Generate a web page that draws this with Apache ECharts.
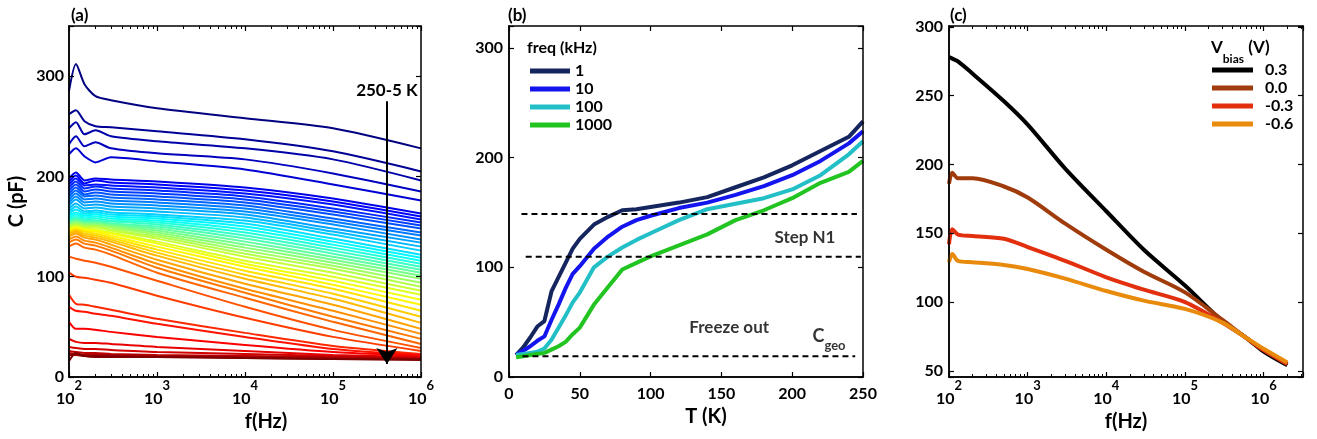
<!DOCTYPE html>
<html>
<head>
<meta charset="utf-8">
<title>C-f / C-T</title>
<script src="https://cdn.jsdelivr.net/npm/echarts@6/dist/echarts.min.js"></script>
<style>
html,body{margin:0;padding:0;background:#fff;}
.chart{position:absolute;left:0;top:0;width:1317px;height:439px;}
</style>
</head>
<body>
<div id="main" class="chart"></div>
<div id="frame" class="chart"></div>
<script>
// (a) C vs f, one curve per temperature, 250 K (first row) down to 5 K (last row)
var freqA = [100, 120, 150, 200, 300, 1e3, 1e4, 1e5, 1e6];
var capA = [
    [285, 312, 292, 280, 276, 268, 258, 248, 228],
    [262, 266, 255, 250, 249, 245, 237, 225, 205],
    [248, 254, 242, 246, 240, 235, 228, 217, 196],
    [232, 240, 230, 234, 228, 223, 217, 203, 185],
    [222, 228, 220, 214, 219, 215, 207, 192, 176],
    [198, 204, 196, 198, 197, 195, 189, 178, 163],
    [195, 201, 193, 196, 194, 192, 186, 175, 160],
    [192, 198, 191, 192, 191, 189, 183, 172, 157],
    [189, 195, 188, 190, 188, 186, 180, 168, 154],
    [186, 192, 185, 187, 185, 183, 177, 165, 151],
    [183, 189, 182, 184, 182, 180, 174, 162, 148],
    [180, 186, 180, 181, 179, 177, 171, 158, 144],
    [177, 183, 177, 178, 176, 174, 168, 155, 141],
    [174, 180, 174, 175, 173, 171, 165, 152, 137],
    [171, 177, 171, 172, 170, 168, 162, 148, 134],
    [168, 173, 168, 169, 167, 165, 159, 145, 130],
    [165, 170, 165, 166, 164, 162, 156, 142, 126],
    [163, 167, 163, 164, 162, 160, 153, 138, 122],
    [161, 164, 161, 162, 160, 158, 150, 135, 119],
    [159, 162, 159, 160, 158, 156, 147, 132, 116],
    [157, 160, 157, 158, 156, 154, 144, 129, 113],
    [156, 158, 156, 156, 155, 152, 141, 126, 110],
    [155, 157, 155, 155, 153, 150, 138, 123, 107],
    [154, 156, 154, 154, 152, 148, 135, 120, 104],
    [153, 155, 153, 153, 151, 146, 132, 117, 101],
    [152, 154, 152, 152, 150, 144, 129, 114, 98],
    [151, 153, 151, 151, 149, 142, 126, 111, 94],
    [150, 152, 150, 150, 147, 140, 123, 108, 90],
    [149, 151, 149, 149, 146, 138, 120, 104, 86],
    [148, 150, 148, 147, 144, 135, 116, 100, 82],
    [147, 149, 147, 146, 143, 133, 113, 96, 77],
    [146, 148, 146, 145, 141, 130, 110, 92, 72],
    [145, 147, 145, 143, 139, 127, 106, 88, 66],
    [144, 146, 143, 141, 137, 124, 102, 83, 60],
    [142, 145, 141, 139, 135, 121, 98, 78, 54],
    [140, 143, 139, 137, 132, 117, 93, 72, 48],
    [137, 140, 136, 134, 129, 113, 88, 66, 43],
    [134, 137, 133, 131, 126, 109, 84, 60, 38],
    [130, 133, 129, 127, 122, 104, 79, 55, 33],
    [120, 118, 116, 114, 110, 96, 70, 47, 29],
    [104, 100, 99, 97, 94, 81, 59, 40, 26],
    [82, 73, 72, 70, 67, 58, 44, 31, 23],
    [70, 66, 65, 63, 61, 53, 40, 28, 22],
    [55, 48, 48, 47, 45, 40, 32, 25, 21],
    [38, 35, 34, 34, 33, 30, 26, 22, 20],
    [30, 29, 28, 28, 27, 25, 23, 21, 19],
    [26, 25, 24, 24, 23, 22, 21, 20, 19],
    [24, 23, 22, 22, 22, 21, 20, 19, 18],
    [22, 22, 21, 21, 21, 20, 19, 18, 18],
    [16, 24, 21, 20, 20, 20, 19, 18, 17]
];
var arrowText = '250-5 K';

// (b) C vs T at four frequencies
var tempB = [5, 10, 15, 20, 25, 30, 35, 40, 45, 50, 60, 70, 80, 90, 100, 120, 140, 160, 180, 200, 220, 240, 250];
var freqNamesB = ['1', '10', '100', '1000'];
var capB1 = [20, 27, 36, 46, 51, 78, 91, 104, 117, 126, 139, 146, 152, 153, 155, 159, 164, 173, 182, 193, 206, 219, 233];
var capB10 = [20, 24, 28, 33, 37, 52, 66, 81, 94, 101, 117, 128, 137, 143, 147, 154, 159, 166, 174, 184, 197, 213, 224];
var capB100 = [20, 21, 22, 23, 26, 34, 45, 56, 68, 77, 100, 110, 118, 125, 131, 143, 153, 158, 163, 171, 184, 203, 215];
var capB1000 = [18, 19, 20, 21, 22, 25, 28, 32, 39, 45, 66, 82, 98, 104, 110, 120, 130, 143, 152, 163, 177, 187, 197];
var levelB = [148.5, 109.7, 19];
var levelFromB = [8.8, 11.8, 9.5];
var levelToB = [245.7, 248.5, 244.5];
var noteTextB = ['Step N1', 'Freeze out', '{c|C}{g|geo}'];

// (c) C vs f at four bias voltages
var freqC = [100, 110, 130, 200, 500, 1e3, 3e3, 1e4, 3e4, 1e5, 3e5, 6e5, 1e6, 2e6];
var biasNamesC = ['0.3', '0.0', '-0.3', '-0.6'];
var capC03 = [278, 277, 275, 266, 246, 229, 197, 166, 138, 112, 86, 74, 64, 54];
var capC00 = [186, 194, 190, 190, 184, 176, 157, 138, 122, 107, 87, 74, 65, 55];
var capCm03 = [142, 153, 149, 148, 146, 140, 130, 118, 109, 100, 85, 74, 65, 55];
var capCm06 = [129, 135, 130, 129, 127, 124, 117, 108, 101, 95, 85, 74, 66, 56];
var xTicksC = [1e2, 1e3, 1e4, 1e5, 1e6];
var yTicksC = [50, 100, 150, 200, 250, 300];

// axis ranges [xMin, xMax, yMin, yMax]
var rangeA = [100, 1e6, 0, 350];
var rangeB = [0, 250, 0, 320];
var rangeC = [100, 3162278, 45.5, 300.7];

var FONT = 'Lato';
var colorsB = ['#15255e', '#1414ee', '#22bfc6', '#22c422'];
var colorsC = ['#000000', '#a03c0c', '#e2300e', '#e88a0c'];
var grids = [
    {left: 69, top: 26, width: 352, height: 351},
    {left: 509, top: 26, width: 354, height: 351},
    {left: 949, top: 26, width: 354, height: 351}
];

function clamp(v) { return Math.max(0, Math.min(1, v)); }
function jet(t) {
    var r = clamp(1.5 - Math.abs(4 * t - 3));
    var g = clamp(1.5 - Math.abs(4 * t - 2));
    var b = clamp(1.5 - Math.abs(4 * t - 1));
    return 'rgb(' + Math.round(r * 255) + ',' + Math.round(g * 255) + ',' + Math.round(b * 255) + ')';
}
function pairs(xs, ys) {
    return xs.map(function (x, j) { return [x, ys[j]]; });
}
function logLabel(v) {
    return '{b|10}{s|' + Math.round(Math.log(v) / Math.LN10) + '}';
}
function txt(size) {
    return {color: '#000', fontFamily: FONT, fontWeight: 'bold', fontSize: size || 16};
}
function logRich() {
    return {
        b: {color: '#000', fontFamily: FONT, fontWeight: 'bold', fontSize: 16, lineHeight: 28, verticalAlign: 'bottom'},
        s: {color: '#000', fontFamily: FONT, fontWeight: 'bold', fontSize: 13, lineHeight: 13, verticalAlign: 'top'}
    };
}
function axLine() {
    return {show: true, onZero: false, lineStyle: {color: '#000', width: 1.5}};
}
function axTick() {
    return {show: true, inside: true, length: 5, lineStyle: {color: '#000', width: 1.2}};
}
function withPad(o, pad) { o.padding = pad; return o; }

// ---------- main chart: curves, labels, names ----------
function axis(extra) {
    var a = {axisLine: axLine(), axisTick: {show: false}, splitLine: {show: false}};
    for (var k in extra) a[k] = extra[k];
    return a;
}
var xAxes = [
    axis({gridIndex: 0, type: 'log', logBase: 10, min: rangeA[0], max: rangeA[1],
        axisLabel: {formatter: logLabel, rich: logRich(), margin: 2},
        name: 'f(Hz)', nameLocation: 'middle', nameGap: 29, nameTextStyle: withPad(txt(20), [0, 0, 0, 42])}),
    axis({gridIndex: 1, type: 'value', min: rangeB[0], max: rangeB[1], interval: 50,
        axisLabel: withPad(txt(16), 0),
        name: 'T (K)', nameLocation: 'middle', nameGap: 29, nameTextStyle: withPad(txt(20), [0, 0, 0, 40])}),
    axis({gridIndex: 2, type: 'log', logBase: 10, min: rangeC[0], max: rangeC[1],
        axisLabel: {formatter: logLabel, rich: logRich(), margin: 2, customValues: xTicksC},
        name: 'f(Hz)', nameLocation: 'middle', nameGap: 29, nameTextStyle: txt(20)})
];
xAxes[1].axisLabel.margin = 9;

var yAxes = [
    axis({gridIndex: 0, type: 'value', min: rangeA[2], max: rangeA[3], interval: 100,
        axisLabel: withPad(txt(16), 0),
        name: 'C (pF)', nameLocation: 'middle', nameGap: 42, nameRotate: 90, nameTextStyle: txt(20)}),
    axis({gridIndex: 1, type: 'value', min: rangeB[2], max: rangeB[3], interval: 100,
        axisLabel: withPad(txt(16), 0)}),
    axis({gridIndex: 2, type: 'value', min: rangeC[2], max: rangeC[3],
        axisLabel: withPad(txt(16), 0)})
];
yAxes[0].axisLabel.margin = 5;
yAxes[0].axisLabel.showMaxLabel = false;
yAxes[1].axisLabel.margin = 6;
yAxes[1].axisLabel.showMaxLabel = false;
yAxes[2].axisLabel.margin = 6;
yAxes[2].axisLabel.customValues = yTicksC;

var series = [];
capA.forEach(function (row, i) {
    var c = jet(i / (capA.length - 1));
    series.push({
        name: (250 - 5 * i) + ' K', type: 'line', xAxisIndex: 0, yAxisIndex: 0,
        showSymbol: false, smooth: 0.25, silent: true,
        lineStyle: {width: 2, color: c}, itemStyle: {color: c},
        data: pairs(freqA, row)
    });
});
// arrow 250 -> 5 K
series[series.length - 1].markLine = {
    silent: true, animation: false,
    symbol: ['none', 'arrow'], symbolSize: 16,
    lineStyle: {color: '#000', width: 2, type: 'solid'},
    label: {show: true, position: 'start', distance: 2, formatter: arrowText,
        color: '#000', fontFamily: FONT, fontWeight: 'bold', fontSize: 17},
    data: [[{coord: [4.1e5, 275]}, {coord: [4.1e5, 13]}]]
};

[capB1, capB10, capB100, capB1000].forEach(function (ys, k) {
    series.push({
        name: freqNamesB[k], type: 'line', xAxisIndex: 1, yAxisIndex: 1,
        showSymbol: false, silent: true,
        lineStyle: {width: 4, color: colorsB[k]}, itemStyle: {color: colorsB[k]},
        data: pairs(tempB, ys)
    });
});
levelB.forEach(function (v, k) {
    series.push({
        type: 'line', xAxisIndex: 1, yAxisIndex: 1, showSymbol: false, silent: true,
        lineStyle: {width: 2, color: '#000', type: [6, 4]},
        data: [[levelFromB[k], v], [levelToB[k], v]]
    });
});
series.push({
    type: 'scatter', xAxisIndex: 1, yAxisIndex: 1, symbolSize: 0, silent: true,
    label: {
        show: true, position: 'inside', color: '#000', fontFamily: FONT, fontWeight: 'bold', fontSize: 17,
        formatter: function (p) { return noteTextB[p.dataIndex]; },
        rich: {
            c: {color: '#000', fontFamily: FONT, fontWeight: 'bold', fontSize: 18, lineHeight: 26, verticalAlign: 'top'},
            g: {color: '#000', fontFamily: FONT, fontWeight: 'bold', fontSize: 13, verticalAlign: 'bottom'}
        }
    },
    data: [[209, 127], [155.5, 44.7], [226, 34]]
});

[capC03, capC00, capCm03, capCm06].forEach(function (ys, k) {
    series.push({
        name: biasNamesC[k], type: 'line', xAxisIndex: 2, yAxisIndex: 2,
        showSymbol: false, smooth: 0.3, silent: true,
        lineStyle: {width: 4, color: colorsC[k]}, itemStyle: {color: colorsC[k]},
        data: pairs(freqC, ys)
    });
});

var myChart = echarts.init(document.getElementById('main'));
myChart.setOption({
    animation: false,
    title: [
        {text: '(a)', left: 71, top: 7, padding: 0, textStyle: txt(17)},
        {text: '(b)', left: 508, top: 7, padding: 0, textStyle: txt(17)},
        {text: '(c)', left: 950, top: 7, padding: 0, textStyle: txt(17)},
        {text: 'freq (kHz)', left: 527, top: 40, padding: 0, textStyle: txt(16)},
        {text: '{v|V}{s|bias}{v| (V)}', left: 1211, top: 39, padding: 0, textStyle: {
            rich: {
                v: {color: '#000', fontFamily: FONT, fontWeight: 'bold', fontSize: 17, lineHeight: 26, verticalAlign: 'top'},
                s: {color: '#000', fontFamily: FONT, fontWeight: 'bold', fontSize: 12, verticalAlign: 'bottom'}
            }
        }}
    ],
    legend: [
        {data: freqNamesB, left: 530, top: 63, orient: 'vertical', icon: 'rect', itemWidth: 40, itemHeight: 5,
            itemGap: 2, selectedMode: false, padding: 0, textStyle: txt(16)},
        {data: biasNamesC, left: 1212, top: 62, orient: 'vertical', icon: 'rect', itemWidth: 41, itemHeight: 5,
            itemGap: 2, selectedMode: false, padding: 0, textStyle: withPad(txt(16), [0, 0, 0, 7])}
    ],
    grid: grids,
    xAxis: xAxes,
    yAxis: yAxes,
    series: series
});

// ---------- frame chart on top: box and inward ticks on all four sides ----------
function frameAxis(gi, pos, type, r, split) {
    var a = {gridIndex: gi, position: pos, type: type, min: r[0], max: r[1],
        axisLine: axLine(), axisTick: axTick(), splitLine: {show: false}, axisLabel: {show: false}};
    if (type === 'log') {
        a.logBase = 10;
        a.minorTick = {show: true, splitNumber: 9, length: 3, lineStyle: {color: '#000', width: 1}};
    } else {
        a.splitNumber = split;
    }
    return a;
}
var frameX = [], frameY = [];
[[rangeA, 'log', 5], [rangeB, 'value', 5], [rangeC, 'log', 5]].forEach(function (p, gi) {
    var r = p[0];
    frameX.push(frameAxis(gi, 'bottom', p[1], [r[0], r[1]], p[2]));
    frameX.push(frameAxis(gi, 'top', p[1], [r[0], r[1]], p[2]));
});
[[rangeA, 3], [rangeB, 3], [rangeC, 5]].forEach(function (p, gi) {
    var r = p[0];
    frameY.push(frameAxis(gi, 'left', 'value', [r[2], r[3]], p[1]));
    frameY.push(frameAxis(gi, 'right', 'value', [r[2], r[3]], p[1]));
});
var frameChart = echarts.init(document.getElementById('frame'));
frameChart.setOption({
    animation: false,
    backgroundColor: 'transparent',
    grid: grids,
    xAxis: frameX,
    yAxis: frameY
});
</script>
</body>
</html>
